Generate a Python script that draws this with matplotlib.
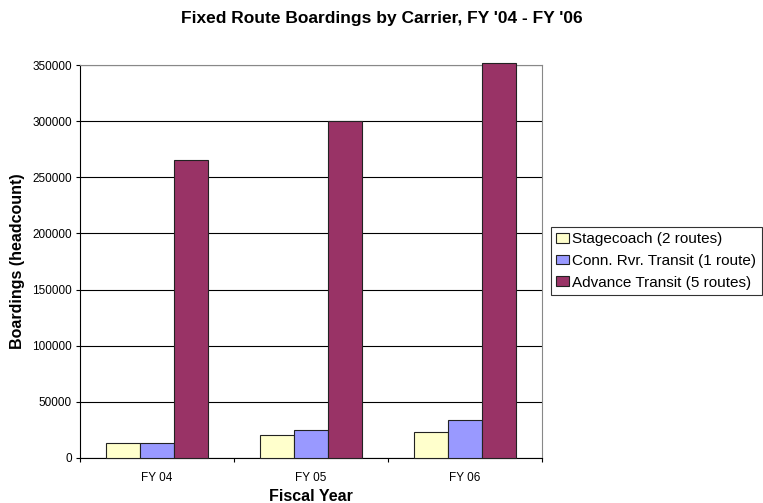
import matplotlib.pyplot as plt
import numpy as np

plt.rcParams['font.family'] = ['Liberation Sans', 'DejaVu Sans']

years = ['FY 04', 'FY 05', 'FY 06']
carriers = ['Stagecoach (2 routes)', 'Conn. Rvr. Transit (1 route)', 'Advance Transit (5 routes)']
stagecoach = [13300, 20100, 23400]
conn_river = [13500, 24600, 34100]
advance = [265500, 300000, 352000]
colors = ['#FFFFCC', '#9999FF', '#993366']

W, H = 763, 503
fig = plt.figure(figsize=(W / 100, H / 100), dpi=100)
ax = fig.add_axes([80 / W, 1 - 458 / H, 462 / W, 393 / H])

x = np.arange(len(years))
w = 0.222
for i, (vals, col, name) in enumerate(zip([stagecoach, conn_river, advance], colors, carriers)):
    ax.bar(x + (i - 1) * w, vals, w, color=col, edgecolor='#222222', linewidth=0.8,
           label=name, zorder=3, clip_on=False)

ax.set_xlim(-0.5, 2.5)
ax.set_ylim(0, 350000)
ax.set_yticks(range(0, 350001, 50000))
ax.set_yticklabels([str(v) for v in range(0, 350001, 50000)], fontsize=8.5)
ax.yaxis.grid(True, color='black', linewidth=0.8, zorder=0)
ax.set_axisbelow(True)

# category labels sit between the tick marks
ax.set_xticks([-0.5, 0.5, 1.5, 2.5])
ax.set_xticklabels([])
ax.set_xticks(x, minor=True)
ax.set_xticklabels(years, minor=True, fontsize=8.5)
ax.tick_params(axis='x', which='minor', length=0, pad=10)
ax.tick_params(axis='x', which='major', length=3, direction='out')
ax.tick_params(axis='y', length=3, direction='out', pad=3)

for s in ['top', 'right']:
    ax.spines[s].set_color('#888888')
for s in ['left', 'bottom']:
    ax.spines[s].set_color('black')

ax.set_xlabel('Fiscal Year', fontsize=11.5, fontweight='bold', labelpad=4)
ax.set_ylabel('Boardings (headcount)', fontsize=11.5, fontweight='bold')
ax.yaxis.set_label_coords(-55 / 462, 0.5)
fig.text(0.5, 1 - 19 / H, "Fixed Route Boardings by Carrier, FY '04 - FY '06",
         ha='center', va='center', fontsize=12.5, fontweight='bold')

leg = fig.legend(loc='upper left', bbox_to_anchor=(551 / W, 1 - 227 / H), fontsize=11,
                 frameon=True, fancybox=False, edgecolor='black', handlelength=0.8,
                 handleheight=0.6, handletextpad=0.25, borderpad=0.35, labelspacing=0.5,
                 borderaxespad=0)
leg.get_frame().set_linewidth(0.8)

plt.savefig('out.png', dpi=100)
plt.close()
